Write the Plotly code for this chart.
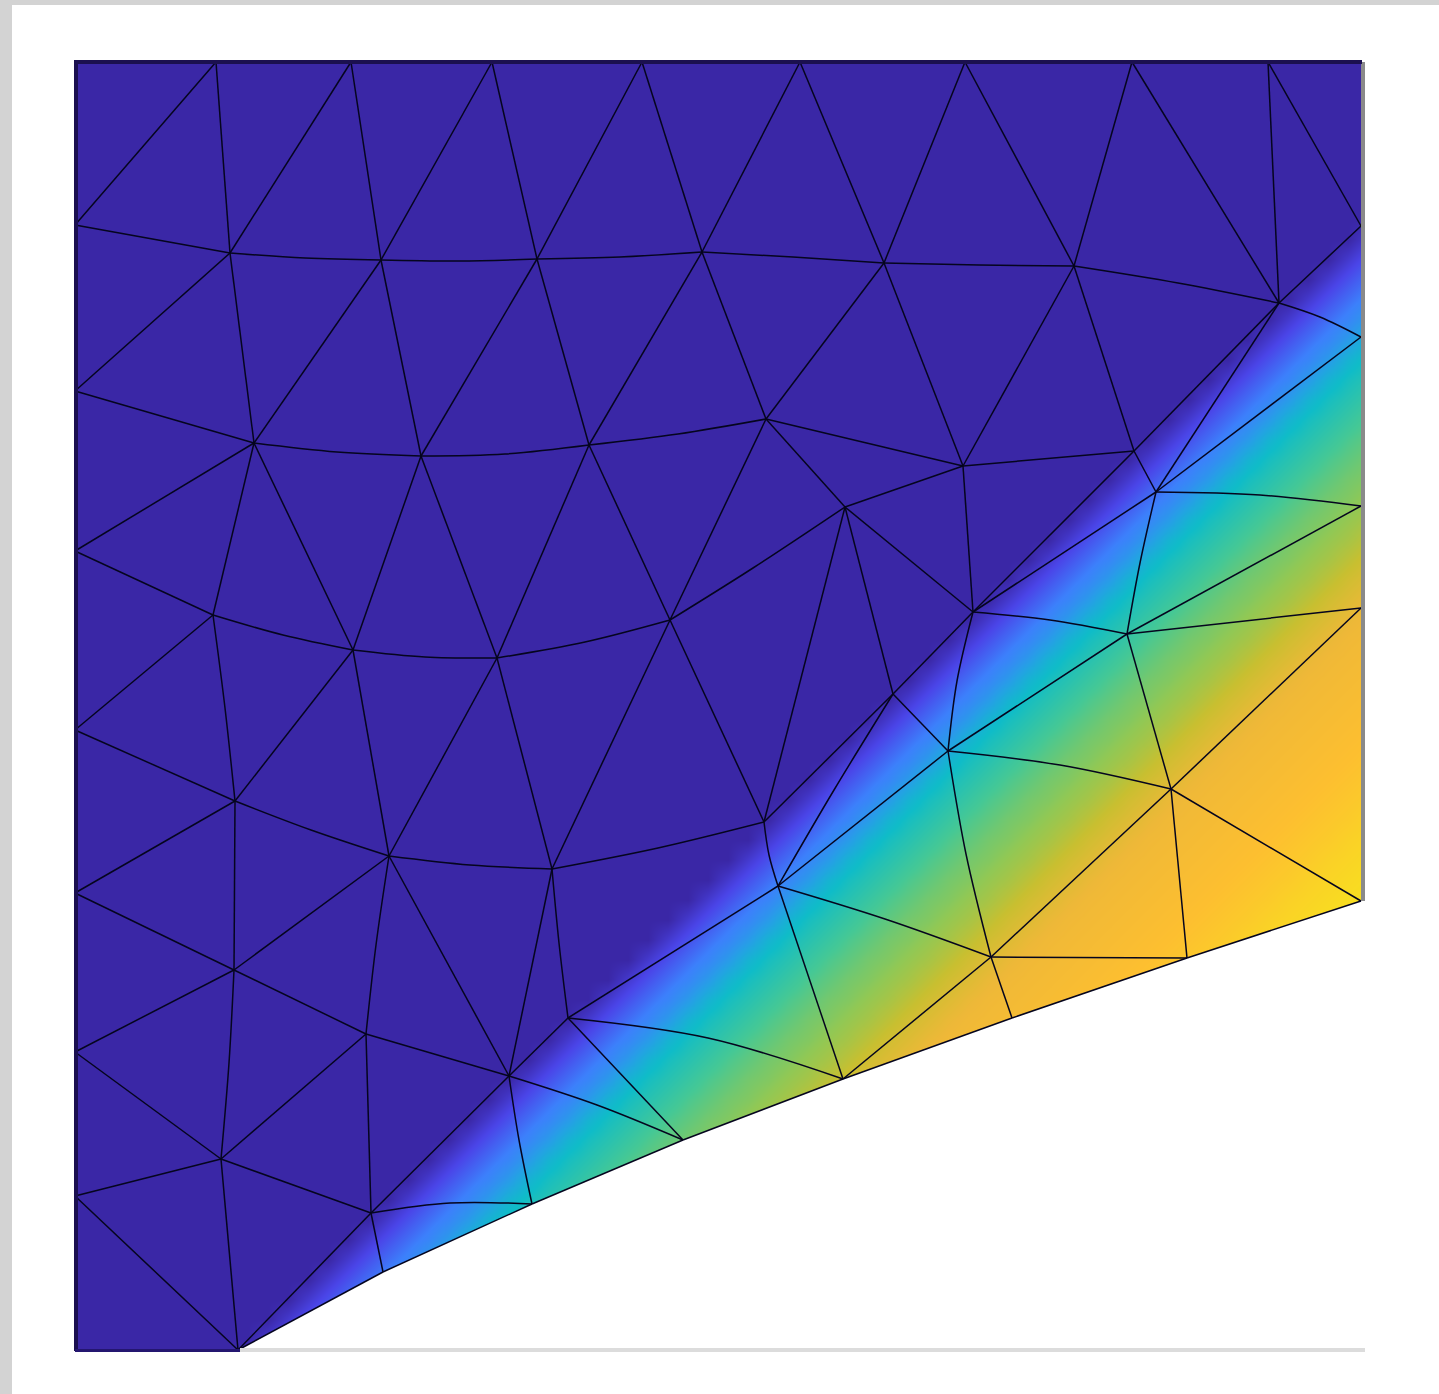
import numpy as np
import plotly.graph_objects as go

# mesh nodes, image-like coordinates (y down)
nodes = {
    "t0": (75, 62), "t1": (216, 62), "t2": (351, 62), "t3": (492, 62), "t4": (642, 62),
    "t5": (800, 62), "t6": (965, 62), "t7": (1132, 62), "t8": (1268, 62), "t9": (1361, 62),
    "l1": (75, 225), "l2": (75, 391), "l3": (75, 551), "l4": (75, 730), "l5": (75, 893),
    "l6": (75, 1052), "l7": (75, 1196), "l8": (75, 1350),
    "r1": (1361, 226), "r2": (1361, 337), "r3": (1361, 506), "r4": (1361, 608), "r5": (1361, 901),
    "a1": (230, 253), "a2": (381, 260), "a3": (537, 259), "a4": (702, 252), "a5": (884, 263),
    "a6": (1074, 266), "a7": (1279, 303),
    "b1": (254, 443), "b2": (421, 456), "b3": (589, 445), "b4": (766, 419), "b5": (963, 466), "b6": (1134, 451),
    "c1": (213, 615), "c2": (353, 650), "c3": (497, 658), "c4": (670, 620), "c5": (845, 507), "c6": (973, 612),
    "d1": (235, 801), "d2": (389, 856), "d3": (552, 869), "d4": (764, 822), "d5": (893, 694),
    "e1": (234, 970), "e2": (366, 1034), "e3": (509, 1076), "e4": (568, 1018),
    "f1": (221, 1159), "f2": (371, 1213),
    "g0": (238, 1350), "g1": (383, 1272), "g2": (532, 1204), "g3": (683, 1140),
    "g4": (843, 1079), "g5": (1012, 1018), "g6": (1187, 958),
    "h1": (778, 886), "h2": (948, 751), "h3": (1156, 492), "h4": (1127, 634), "h5": (1171, 789), "h6": (991, 957),
}

straight_edges = """l1-t1 t1-a1 a1-t2 t2-a2 a2-t3 t3-a3 a3-t4 t4-a4 a4-t5 t5-a5 a5-t6 t6-a6 a6-t7 t7-a7
a7-t8 t8-r1 a7-r1 l1-a1 a1-l2 a1-b1 a2-b1 a2-b2 a3-b2 a3-b3 a4-b3 a4-b4 a5-b4 a5-b5 a6-b5 a6-b6 a7-b6
l2-b1 b4-b5 b5-b6 b4-c5 b5-c5 b5-c6 c5-c6 b4-c4 b3-c4 b3-c3 b2-c3 b2-c2 b1-c2 b1-c1 l3-b1 l3-c1 c1-l4
c2-d1 c2-d2 c3-d2 c3-d3 c4-d3 c4-d4 l4-d1 l5-d1 d1-e1 d2-e1 d2-e3 d3-e3 c5-d4 c5-d5 d4-d5 d5-c6 c6-b6
d5-h2 h1-h2 e4-h1 h2-h4 h3-c6 h3-b6 h3-a7 h3-r2 h4-r3 h4-r4 h4-h5 h5-r4 h5-r5 h5-g6 h5-h6 h6-g6
h6-g5 h6-g4 e4-g3 e3-e4 l6-e1 l5-e1 e1-e2 l6-f1 e2-f1 e2-e3 e2-f2 f1-f2 f1-l7 l7-g0 f1-g0 f2-g0 f2-e3
f2-g1 h1-g4 g0-g1 g1-g2 g2-g3 g3-g4 g4-g5 g5-g6 g6-r5""".split()

# edges of the quadratic elements that bow: name pair and the mid-edge point
curved_edges = [
    ("a1", "a2", 305, 258), ("a2", "a3", 459, 261), ("a3", "a4", 620, 257), ("a4", "a5", 793, 257),
    ("a5", "a6", 979, 265), ("a6", "a7", 1178, 283), ("a7", "r2", 1320, 317), ("b1", "b2", 337, 452),
    ("b2", "b3", 505, 454), ("b3", "b4", 678, 434), ("c1", "c2", 283, 635), ("c2", "c3", 425, 657),
    ("c3", "c4", 585, 642), ("c4", "c5", 753, 568), ("d1", "d2", 311, 830), ("d2", "d3", 470, 865),
    ("d3", "d4", 658, 848), ("h3", "r3", 1260, 495), ("c6", "h4", 1050, 620), ("h5", "h2", 1060, 765),
    ("h1", "h6", 885, 919), ("e4", "g4", 708, 1038), ("e3", "g3", 597, 1105), ("f2", "g2", 450, 1203),
    ("h6", "h2", 966, 854), ("c6", "h2", 957, 681), ("e3", "g2", 519, 1140), ("e1", "f1", 229, 1063),
    ("d2", "e2", 376, 945), ("d3", "e4", 559, 943), ("h3", "h4", 1140, 563), ("c1", "d1", 225, 708),
    ("d5", "h1", 834, 790), ("d4", "h1", 769, 855),
]

boundary_lower = ["g0", "g1", "g2", "g3", "g4", "g5", "g6", "r5"]

# solution read along the normal of the interface x + y = 1588, every 20 units
profile = [0, .05, .10, .15, .20, .28, .38, .44, .48, .52, .56, .59, .62, .64, .67, .70, .74, .78,
           .81, .84, .86, .87, .88, .89, .90, .91, .92, .93, .94, .95, .965, .975, .985, .995, 1]
colorstops = [[0, "#3a27a6"], [.08, "#4a45e8"], [.18, "#3c80fb"], [.30, "#25a0e5"], [.42, "#0fbcc8"],
              [.55, "#45c895"], [.66, "#90c855"], [.76, "#c8bf30"], [.85, "#eeb838"], [.92, "#fdbf30"],
              [1, "#f8de20"]]

grid_x = np.arange(68, 1380, 20)
grid_y = np.arange(60, 1372, 20)
ii, jj = np.meshgrid(np.arange(len(grid_x)), np.arange(len(grid_y)))
z = np.array(profile)[np.clip(ii + jj - 73, 0, len(profile) - 1)]

edge_x, edge_y = [], []
for e in straight_edges:
    p, q = e.split("-")
    edge_x += [nodes[p][0], nodes[q][0], None]
    edge_y += [nodes[p][1], nodes[q][1], None]

curve_x, curve_y = [], []
for p, q, mx, my in curved_edges:
    curve_x += [nodes[p][0], mx, nodes[q][0], None]
    curve_y += [nodes[p][1], my, nodes[q][1], None]

# white outside of the domain, keyhole polygon
mask_x = [0, 0, 1439, 1439, 0, 75, 1361] + [nodes[n][0] for n in boundary_lower[::-1]] + [75, 75, 0]
mask_y = [0, 1394, 1394, 0, 0, 62, 62] + [nodes[n][1] for n in boundary_lower[::-1]] + [1350, 62, 0]

fig = go.Figure()
fig.add_trace(go.Heatmap(x=grid_x, y=grid_y, z=z, zmin=0, zmax=1, zsmooth="best",
                         colorscale=colorstops, showscale=False, hoverinfo="skip"))
fig.add_trace(go.Scatter(x=mask_x, y=mask_y, mode="lines", fill="toself", fillcolor="white",
                         line=dict(width=0), hoverinfo="skip"))
fig.add_trace(go.Scatter(x=edge_x, y=edge_y, mode="lines", hoverinfo="skip",
                         line=dict(color="#05051e", width=1.5)))
fig.add_trace(go.Scatter(x=curve_x, y=curve_y, mode="lines", hoverinfo="skip",
                         line=dict(color="#05051e", width=1.5, shape="spline", smoothing=1)))

gray = "#d3d3d3"
fig.update_layout(
    width=1439, height=1394, showlegend=False,
    margin=dict(l=0, r=0, t=0, b=0),
    paper_bgcolor="white", plot_bgcolor="white",
    xaxis=dict(range=[0, 1439], visible=False, fixedrange=True),
    yaxis=dict(range=[1394, 0], visible=False, fixedrange=True),
    shapes=[
        dict(type="rect", x0=0, x1=12, y0=0, y1=1394, fillcolor=gray, line_width=0, layer="above"),
        dict(type="rect", x0=0, x1=1439, y0=0, y1=5, fillcolor=gray, line_width=0, layer="above"),
        dict(type="rect", x0=240, x1=1365, y0=1348, y1=1352, fillcolor="#dcdcdc", line_width=0, layer="above"),
        dict(type="rect", x0=1361, x1=1365, y0=62, y1=901, fillcolor="#8a8a8a", line_width=0, layer="above"),
        dict(type="rect", x0=75, x1=1362, y0=60, y1=64, fillcolor="#1b1050", line_width=0, layer="above"),
        dict(type="rect", x0=74, x1=78, y0=60, y1=1351, fillcolor="#1b1050", line_width=0, layer="above"),
        dict(type="rect", x0=75, x1=240, y0=1349, y1=1352, fillcolor="#241670", line_width=0, layer="above"),
    ],
)
fig.write_html("out.html", config={"displayModeBar": False}, post_script="document.body.style.margin='0';")
